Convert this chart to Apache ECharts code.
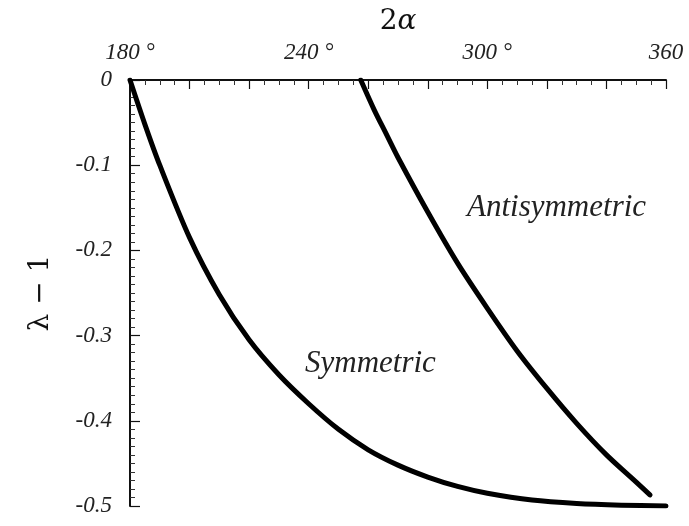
<!DOCTYPE html>
<html>
<head>
<meta charset="utf-8">
<script src="https://cdn.jsdelivr.net/npm/echarts@6/dist/echarts.min.js"></script>
<style>
  html, body { margin: 0; padding: 0; background: #fff; }
  #chart { width: 689px; height: 526px; }
</style>
</head>
<body>
<div id="chart"></div>
<script>
// Total wedge angle 2α in degrees and eigenvalue offset λ − 1
const symAngle = [180, 185, 190, 200, 210, 220, 230, 240, 250, 260, 270, 280, 290, 300, 315, 330, 345, 360];
const symValue = [0, -0.052, -0.100, -0.185, -0.252, -0.305, -0.346, -0.380, -0.410, -0.434, -0.452, -0.466, -0.477, -0.485, -0.493, -0.497, -0.499, -0.500];

const antiAngle = [257.5, 262, 266, 270, 280, 290, 300, 310, 320, 330, 340, 350, 354.6];
const antiValue = [0, -0.035, -0.063, -0.091, -0.155, -0.215, -0.268, -0.318, -0.362, -0.403, -0.440, -0.472, -0.487];

const xTickLabels = { 180: '180 °', 240: '240 °', 300: '300 °', 360: '360' };
const yTickLabels = { '0': '0', '-0.1': '-0.1', '-0.2': '-0.2', '-0.3': '-0.3', '-0.4': '-0.4', '-0.5': '-0.5' };

const pairs = (xs, ys) => xs.map((x, i) => [x, ys[i]]);

const labelFont = {
  fontFamily: 'Liberation Serif',
  fontStyle: 'italic',
  fontSize: 23,
  color: '#222'
};

const curveStyle = { color: '#000', width: 5, cap: 'round', join: 'round' };

const chart = echarts.init(document.getElementById('chart'));
chart.setOption({
  animation: false,
  backgroundColor: '#fff',
  grid: { left: 130, right: 23, top: 80, bottom: 20 },
  xAxis: {
    type: 'value',
    position: 'top',
    min: 180,
    max: 360,
    interval: 20,
    name: '{n|2}{g|α}',
    nameLocation: 'middle',
    nameGap: 40,
    nameTextStyle: {
      rich: {
        n: { fontFamily: 'DejaVu Serif', fontSize: 28, color: '#111' },
        g: { fontFamily: 'DejaVu Serif', fontStyle: 'italic', fontSize: 28, color: '#111' }
      }
    },
    axisLine: { show: true, lineStyle: { color: '#111', width: 2 } },
    axisTick: { show: true, inside: true, length: 9, lineStyle: { color: '#111', width: 1.2 } },
    minorTick: { show: true, splitNumber: 4, length: 5, lineStyle: { color: '#333', width: 1 } },
    splitLine: { show: false },
    axisLabel: Object.assign({}, labelFont, {
      margin: 16,
      formatter: v => xTickLabels[v] || ''
    })
  },
  yAxis: {
    type: 'value',
    min: -0.5,
    max: 0,
    interval: 0.1,
    name: 'λ − 1',
    nameLocation: 'middle',
    nameRotate: 90,
    nameGap: 75,
    nameTextStyle: { fontFamily: 'DejaVu Serif', fontSize: 28, color: '#111' },
    axisLine: { show: true, lineStyle: { color: '#111', width: 2 } },
    axisTick: { show: true, inside: true, length: 10, lineStyle: { color: '#111', width: 1.2 } },
    minorTick: { show: true, splitNumber: 10, length: 5, lineStyle: { color: '#333', width: 1 } },
    splitLine: { show: false },
    axisLabel: Object.assign({}, labelFont, {
      margin: 18,
      formatter: v => yTickLabels[String(Math.round(v * 10) / 10)] || ''
    })
  },
  graphic: [
    {
      type: 'text', left: 305, top: 348,
      style: { text: 'Symmetric', fontFamily: 'Liberation Serif', fontStyle: 'italic', fontSize: 31, fill: '#222' }
    },
    {
      type: 'text', left: 467, top: 192,
      style: { text: 'Antisymmetric', fontFamily: 'Liberation Serif', fontStyle: 'italic', fontSize: 31, fill: '#222' }
    }
  ],
  series: [
    {
      name: 'Symmetric',
      type: 'line',
      data: pairs(symAngle, symValue),
      smooth: 0.3,
      showSymbol: false,
      lineStyle: curveStyle
    },
    {
      name: 'Antisymmetric',
      type: 'line',
      data: pairs(antiAngle, antiValue),
      smooth: 0.3,
      showSymbol: false,
      lineStyle: curveStyle
    }
  ]
});
</script>
</body>
</html>
